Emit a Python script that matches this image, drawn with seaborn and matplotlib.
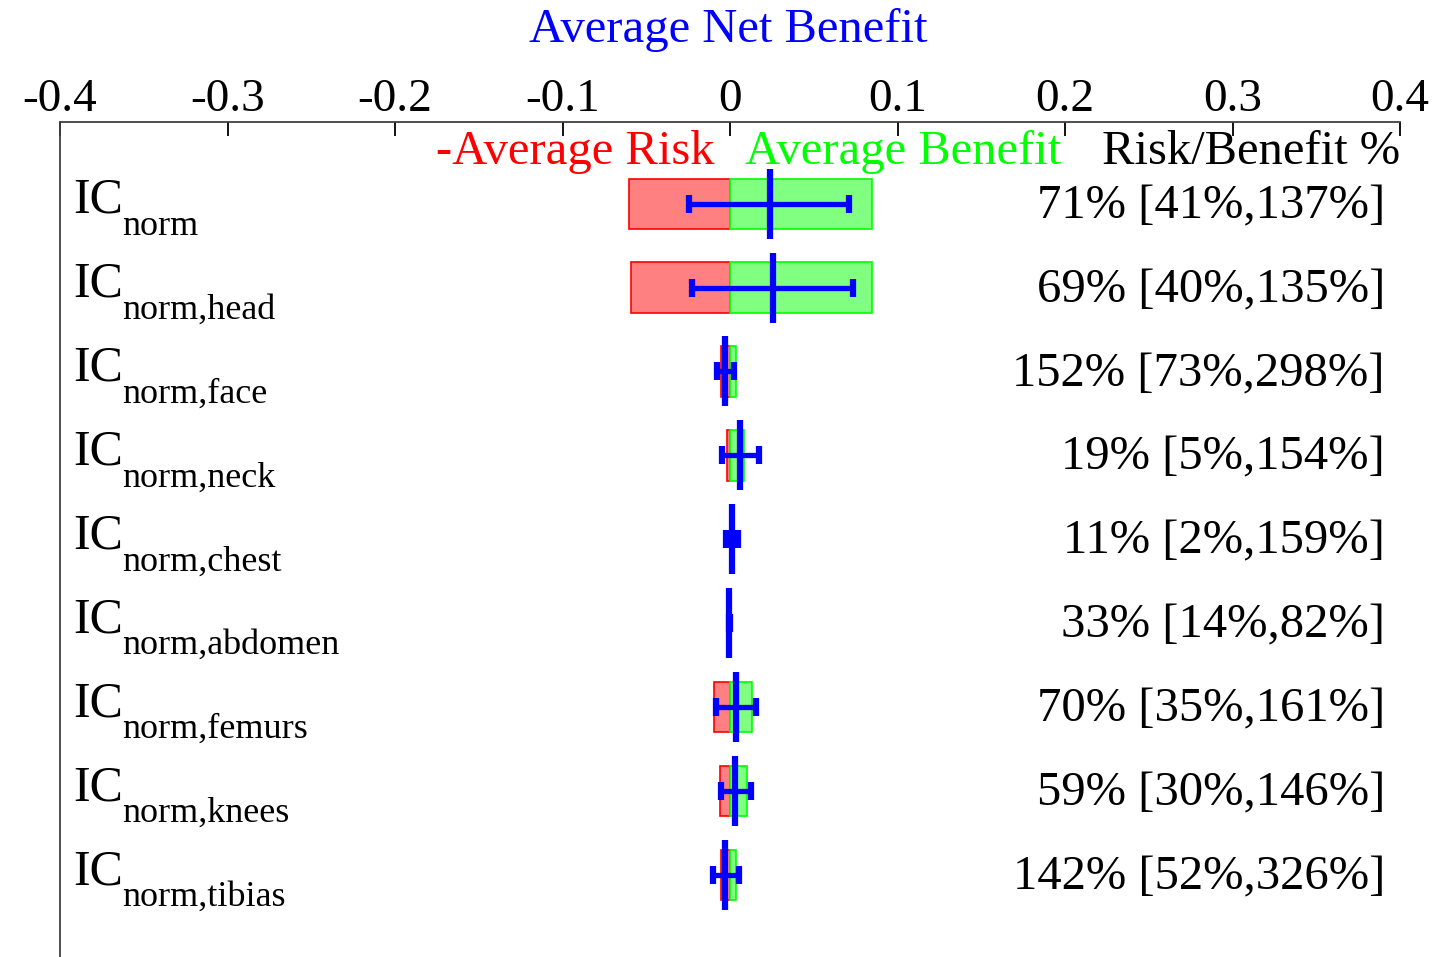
import numpy as np
import pandas as pd
import matplotlib
matplotlib.use('Agg')
import matplotlib.pyplot as plt
import seaborn as sns

# 각 부위별 평균 위험(-), 평균 이득, 순이득(중앙값)과 신뢰구간
regions = ['norm', 'norm,head', 'norm,face', 'norm,neck', 'norm,chest',
           'norm,abdomen', 'norm,femurs', 'norm,knees', 'norm,tibias']
risk = [0.0603, 0.0593, 0.0055, 0.0016, 0.0001, 0.0001, 0.0094, 0.0059, 0.0055]
benefit = [0.0848, 0.0848, 0.0036, 0.0084, 0.0012, 0.0003, 0.0133, 0.0100, 0.0038]
net = [0.0239, 0.0255, -0.0030, 0.0060, 0.0010, -0.0003, 0.0034, 0.0032, -0.0030]
net_lo = [-0.0243, -0.0227, -0.0080, -0.0046, -0.0026, -0.0005, -0.0084, -0.0056, -0.0100]
net_hi = [0.0712, 0.0736, 0.0024, 0.0171, 0.0050, -0.0002, 0.0155, 0.0124, 0.0052]
ratio_labels = ['71% [41%,137%]', '69% [40%,135%]', '152% [73%,298%]',
                '19% [5%,154%]', '11% [2%,159%]', '33% [14%,82%]',
                '70% [35%,161%]', '59% [30%,146%]', '142% [52%,326%]']
xticks = [-0.4, -0.3, -0.2, -0.1, 0, 0.1, 0.2, 0.3, 0.4]
xticklabels = ['-0.4', '-0.3', '-0.2', '-0.1', '0', '0.1', '0.2', '0.3', '0.4']

sns.set_style('white')
plt.rcParams['font.family'] = ['Liberation Serif', 'DejaVu Serif']
plt.rcParams['text.color'] = 'black'

df = pd.DataFrame({'region': regions,
                   'neg_risk': -np.array(risk),
                   'benefit': benefit})

fig = plt.figure(figsize=(14.4, 9.57), dpi=100)
ax = fig.add_axes([60 / 1440, 0, 1340 / 1440, 835 / 957])

# 위험(빨강), 이득(초록) 막대
sns.barplot(data=df, x='neg_risk', y='region', order=regions, orient='h',
            color='#FF8080', edgecolor='#FF0000', linewidth=1.2,
            saturation=1, width=0.6, ax=ax)
sns.barplot(data=df, x='benefit', y='region', order=regions, orient='h',
            color='#80FF80', edgecolor='#00FF00', linewidth=1.2,
            saturation=1, width=0.6, ax=ax)

# 순이득 + 신뢰구간 (파랑)
ypos = np.arange(len(regions))
net_a = np.array(net)
xerr = [net_a - np.array(net_lo), np.array(net_hi) - net_a]
ax.errorbar(net_a, ypos, xerr=xerr, fmt='|', ms=50, mew=4.5, color='#0000FF',
            ecolor='#0000FF', elinewidth=3.8, capsize=6.5, capthick=3.8, zorder=5)

ax.set_xlim(-0.4, 0.4)
ax.set_ylim(8.98, -0.974)
ax.set_xlabel('')
ax.set_ylabel('')
ax.set_yticks([])
ax.xaxis.tick_top()
ax.set_xticks(xticks)
ax.set_xticklabels(xticklabels)
ax.tick_params(axis='x', direction='in', length=10, width=1.3, pad=1,
               labelsize=34, colors='black', top=True, bottom=False)
for s in ['right', 'bottom']:
    ax.spines[s].set_visible(False)
for s in ['left', 'top']:
    ax.spines[s].set_color('#404040')
    ax.spines[s].set_linewidth(1.3)

# 행 라벨 (IC + 아래첨자)
for i, r in enumerate(regions):
    ax.text(-0.3922, i + 0.11, 'IC', fontsize=36, ha='left', va='baseline')
    ax.text(-0.363, i + 0.37, r, fontsize=26, ha='left', va='baseline')
    ax.text(0.391, i + 0.03, ratio_labels[i], fontsize=35, ha='right', va='center')

# 머리글
ax.text(-0.009, -0.62, '-Average Risk', color='#FF0000', fontsize=35, ha='right', va='center')
ax.text(0.009, -0.62, 'Average Benefit', color='#00FF00', fontsize=35, ha='left', va='center')
ax.text(0.4, -0.62, 'Risk/Benefit %', color='black', fontsize=35, ha='right', va='center')

fig.text(728 / 1440, 1 - 30 / 957, 'Average Net Benefit', color='#0000FF',
         fontsize=35, ha='center', va='center')

fig.savefig('out.png', dpi=100)
